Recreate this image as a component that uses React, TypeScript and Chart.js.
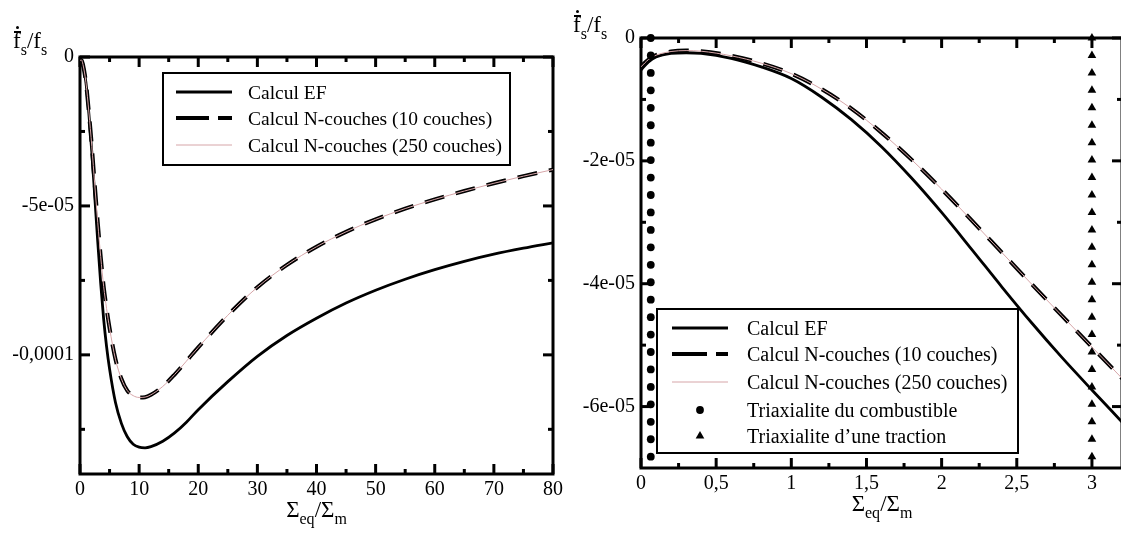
import React, { useEffect, useRef } from 'react';
import { Chart, registerables } from 'chart.js';

Chart.register(...registerables);

const SERIF = '"Liberation Serif", "Times New Roman", serif';

// ---------------- Left chart data ----------------
const leftX = [0, 0.25, 0.5, 1, 1.5, 2, 2.5, 3, 3.5, 4, 4.5, 5, 6, 7, 8, 9, 10, 11, 12, 14, 16, 18, 20, 25, 30, 35, 40, 45, 50, 55, 60, 65, 70, 75, 80];
const leftEF = [-1.2e-6, -1.0e-6, -2.5e-6, -8.5e-6, -19e-6, -32e-6, -47e-6, -62e-6, -76e-6, -88e-6, -97.3e-6, -104.7e-6, -116e-6, -123e-6, -127.5e-6, -130e-6, -131e-6, -131.2e-6, -130.8e-6, -129e-6, -126.2e-6, -122.6e-6, -118.4e-6, -109e-6, -100.5e-6, -93.5e-6, -87.7e-6, -82.6e-6, -78.3e-6, -74.6e-6, -71.4e-6, -68.6e-6, -66.2e-6, -64.2e-6, -62.4e-6];
const leftN10 = [-1.2e-6, -1.0e-6, -2.5e-6, -8.5e-6, -18.5e-6, -30e-6, -43e-6, -55.5e-6, -67e-6, -77e-6, -84.5e-6, -91e-6, -101.5e-6, -108e-6, -112e-6, -113.7e-6, -114.3e-6, -114.2e-6, -113.4e-6, -110.6e-6, -106.6e-6, -102.1e-6, -97.5e-6, -86.7e-6, -77.3e-6, -69.8e-6, -63.7e-6, -58.7e-6, -54.5e-6, -50.9e-6, -47.8e-6, -45e-6, -42.4e-6, -40e-6, -37.8e-6];
const leftN250 = [-1.2e-6, -1.0e-6, -2.5e-6, -8.5e-6, -18.5e-6, -30e-6, -43e-6, -55.5e-6, -67e-6, -77e-6, -84.5e-6, -91e-6, -101.5e-6, -108e-6, -112e-6, -113.7e-6, -114.3e-6, -114.2e-6, -113.4e-6, -110.6e-6, -106.6e-6, -102.1e-6, -97.5e-6, -86.7e-6, -77.3e-6, -69.8e-6, -63.7e-6, -58.7e-6, -54.5e-6, -50.9e-6, -47.8e-6, -45e-6, -42.4e-6, -40e-6, -37.8e-6];

const leftXTicks = [0, 10, 20, 30, 40, 50, 60, 70, 80];
const leftXLabels = ['0', '10', '20', '30', '40', '50', '60', '70', '80'];
const leftXMinor = [5, 15, 25, 35, 45, 55, 65, 75];
const leftYTicks = [0, -5e-5, -1e-4];
const leftYLabels = ['0', '-5e-05', '-0,0001'];
const leftYMinor = [-2.5e-5, -7.5e-5, -1.25e-4];

// ---------------- Right chart data ----------------
const rightX = [0, 0.05, 0.1, 0.2, 0.3, 0.4, 0.6, 0.8, 1.0, 1.2, 1.4, 1.6, 1.8, 2.0, 2.2, 2.4, 2.6, 2.8, 3.0, 3.2];
const rightEF = [-5.2e-6, -3.9e-6, -3.1e-6, -2.5e-6, -2.4e-6, -2.5e-6, -3.3e-6, -4.7e-6, -6.6e-6, -9.6e-6, -13.3e-6, -17.7e-6, -22.8e-6, -28.4e-6, -34.4e-6, -40.5e-6, -46.4e-6, -52.0e-6, -57.3e-6, -62.5e-6];
const rightN10 = [-4.6e-6, -3.5e-6, -2.8e-6, -2.2e-6, -2.05e-6, -2.15e-6, -2.9e-6, -4.1e-6, -5.8e-6, -8.3e-6, -11.5e-6, -15.4e-6, -19.8e-6, -24.6e-6, -29.7e-6, -34.9e-6, -40.1e-6, -45.2e-6, -50.3e-6, -55.4e-6];
const rightN250 = [-4.7e-6, -3.5e-6, -2.8e-6, -2.2e-6, -2.05e-6, -2.15e-6, -2.9e-6, -4.1e-6, -5.8e-6, -8.3e-6, -11.5e-6, -15.4e-6, -19.8e-6, -24.6e-6, -29.7e-6, -34.9e-6, -40.1e-6, -45.2e-6, -50.3e-6, -55.4e-6];

const fuelTriaxX = 0.065;
const fuelTriaxY = [0, -2.84e-6, -5.68e-6, -8.52e-6, -11.36e-6, -14.2e-6, -17.04e-6, -19.88e-6, -22.72e-6, -25.56e-6, -28.4e-6, -31.24e-6, -34.08e-6, -36.92e-6, -39.76e-6, -42.6e-6, -45.44e-6, -48.28e-6, -51.12e-6, -53.96e-6, -56.8e-6, -59.64e-6, -62.48e-6, -65.32e-6, -68.16e-6];
const tractionTriaxX = 3.0;
const tractionTriaxY = [0, -2.84e-6, -5.68e-6, -8.52e-6, -11.36e-6, -14.2e-6, -17.04e-6, -19.88e-6, -22.72e-6, -25.56e-6, -28.4e-6, -31.24e-6, -34.08e-6, -36.92e-6, -39.76e-6, -42.6e-6, -45.44e-6, -48.28e-6, -51.12e-6, -53.96e-6, -56.8e-6, -59.64e-6, -62.48e-6, -65.32e-6, -68.16e-6];

const rightXTicks = [0, 0.5, 1, 1.5, 2, 2.5, 3];
const rightXLabels = ['0', '0,5', '1', '1,5', '2', '2,5', '3'];
const rightXMinor = [0.25, 0.75, 1.25, 1.75, 2.25, 2.75];
const rightYTicks = [0, -2e-5, -4e-5, -6e-5];
const rightYLabels = ['0', '-2e-05', '-4e-05', '-6e-05'];
const rightYMinor = [-1e-5, -3e-5, -5e-5];

const seriesLabels = ['Calcul EF', 'Calcul N-couches (10 couches)', 'Calcul N-couches (250 couches)'];
const markerLabels = ['Triaxialite du combustible', 'Triaxialite d\u2019une traction'];

// ---------------- Plugins ----------------
const frameTicksPlugin = {
  id: 'frameTicks',
  beforeDatasetsDraw(chart: any, _args: any, opts: any) {
    const { ctx, chartArea: a, scales } = chart;
    const xs = scales.x;
    const ys = scales.y;
    ctx.save();
    ctx.strokeStyle = '#000';
    ctx.lineWidth = 3;
    ctx.lineCap = 'butt';
    const seg = (x1: number, y1: number, x2: number, y2: number) => {
      ctx.beginPath();
      ctx.moveTo(x1, y1);
      ctx.lineTo(x2, y2);
      ctx.stroke();
    };
    const xt = (vals: number[], len: number) =>
      vals.forEach((v) => {
        const p = xs.getPixelForValue(v);
        seg(p, a.bottom, p, a.bottom - len);
        seg(p, a.top, p, a.top + len);
      });
    const yt = (vals: number[], len: number) =>
      vals.forEach((v) => {
        const p = ys.getPixelForValue(v);
        seg(a.left, p, a.left + len, p);
        seg(a.right, p, a.right - len, p);
      });
    xt(opts.majorX, 10);
    xt(opts.minorX, 5);
    yt(opts.majorY, 10);
    yt(opts.minorY, 5);
    ctx.strokeRect(a.left, a.top, a.right - a.left, a.bottom - a.top);
    ctx.restore();
  },
};

const boxLegendPlugin = {
  id: 'boxLegend',
  afterDraw(chart: any, _args: any, opts: any) {
    const { ctx } = chart;
    const { box, sampleX0, sampleX1, markerX, textX, rows, fontSize } = opts;
    ctx.save();
    ctx.fillStyle = '#fff';
    ctx.fillRect(box.x, box.y, box.w, box.h);
    ctx.lineWidth = 2;
    ctx.strokeStyle = '#000';
    ctx.strokeRect(box.x, box.y, box.w, box.h);
    rows.forEach((row: any) => {
      const ds = chart.data.datasets[row.dataset];
      const y = row.y;
      if (row.kind === 'line') {
        ctx.beginPath();
        ctx.setLineDash(row.dash || []);
        ctx.lineWidth = ds.borderWidth;
        ctx.strokeStyle = ds.borderColor;
        ctx.moveTo(sampleX0, y);
        ctx.lineTo(sampleX1, y);
        ctx.stroke();
        ctx.setLineDash([]);
      } else if (row.kind === 'circle') {
        ctx.beginPath();
        ctx.fillStyle = '#000';
        ctx.arc(markerX, y, ds.pointRadius, 0, Math.PI * 2);
        ctx.fill();
      } else {
        const r = ds.pointRadius;
        ctx.beginPath();
        ctx.fillStyle = '#000';
        let rad = 0;
        ctx.moveTo(markerX + Math.sin(rad) * r, y - Math.cos(rad) * r);
        rad += (Math.PI * 2) / 3;
        ctx.lineTo(markerX + Math.sin(rad) * r, y - Math.cos(rad) * r);
        rad += (Math.PI * 2) / 3;
        ctx.lineTo(markerX + Math.sin(rad) * r, y - Math.cos(rad) * r);
        ctx.closePath();
        ctx.fill();
      }
      ctx.fillStyle = '#000';
      ctx.font = `${fontSize}px ${SERIF}`;
      ctx.textBaseline = 'alphabetic';
      ctx.textAlign = 'left';
      ctx.fillText(ds.label, textX, y + 7);
    });
    ctx.restore();
  },
};

// ---------------- Helpers ----------------
function labelFor(ticks: number[], labels: string[], v: number) {
  const i = ticks.findIndex((t) => Math.abs(t - v) < 1e-12);
  return i >= 0 ? labels[i] : '';
}

function makeScales(o: any) {
  const tickFont = { family: SERIF, size: 20 };
  return {
    x: {
      type: 'linear',
      min: o.xMin,
      max: o.xMax,
      afterBuildTicks: (s: any) => {
        s.ticks = o.xTicks.map((v: number) => ({ value: v }));
      },
      afterFit: (s: any) => {
        s.height = o.xAxisH;
      },
      ticks: {
        autoSkip: false,
        maxRotation: 0,
        minRotation: 0,
        padding: 4,
        color: '#000',
        font: tickFont,
        callback: (v: number) => labelFor(o.xTicks, o.xLabels, v),
      },
      grid: { display: false, drawTicks: false },
      border: { display: false },
    },
    y: {
      type: 'linear',
      min: o.yMin,
      max: o.yMax,
      afterBuildTicks: (s: any) => {
        s.ticks = o.yTicks.map((v: number) => ({ value: v }));
      },
      afterFit: (s: any) => {
        s.width = o.yAxisW;
      },
      ticks: {
        autoSkip: false,
        padding: 6,
        color: '#000',
        font: tickFont,
        callback: (v: number) => labelFor(o.yTicks, o.yLabels, v),
      },
      grid: { display: false, drawTicks: false },
      border: { display: false },
    },
  };
}

function pts(xs: number[], ys: number[]) {
  return xs.map((x, i) => ({ x, y: ys[i] }));
}

const PINK = '#d6a5a8';

function curveDatasets(xs: number[], ef: number[], n10: number[], n250: number[]) {
  return [
    {
      label: seriesLabels[0],
      data: pts(xs, ef),
      showLine: true,
      borderColor: '#000',
      borderWidth: 2.8,
      pointRadius: 0,
      cubicInterpolationMode: 'monotone',
      order: 3,
    },
    {
      label: seriesLabels[1],
      data: pts(xs, n10),
      showLine: true,
      borderColor: '#000',
      borderWidth: 4,
      borderDash: [20, 12],
      pointRadius: 0,
      cubicInterpolationMode: 'monotone',
      order: 2,
    },
    {
      label: seriesLabels[2],
      data: pts(xs, n250),
      showLine: true,
      borderColor: PINK,
      borderWidth: 1,
      pointRadius: 0,
      cubicInterpolationMode: 'monotone',
      order: 1,
    },
  ];
}

function leftConfig(): any {
  return {
    type: 'scatter',
    data: { datasets: curveDatasets(leftX, leftEF, leftN10, leftN250) },
    options: {
      responsive: false,
      animation: false,
      events: [],
      layout: { padding: { left: 0, top: 57, right: 47, bottom: 0 } },
      scales: makeScales({
        xMin: 0, xMax: 80, xTicks: leftXTicks, xLabels: leftXLabels, xAxisH: 59,
        yMin: -1.4e-4, yMax: 0, yTicks: leftYTicks, yLabels: leftYLabels, yAxisW: 80,
      }),
      plugins: {
        legend: { display: false },
        tooltip: { enabled: false },
        frameTicks: { majorX: leftXTicks, minorX: leftXMinor, majorY: leftYTicks, minorY: leftYMinor },
        boxLegend: {
          box: { x: 163, y: 73, w: 347, h: 92 },
          sampleX0: 176,
          sampleX1: 232,
          markerX: 204,
          textX: 248,
          fontSize: 19.5,
          rows: [
            { dataset: 0, kind: 'line', y: 92 },
            { dataset: 1, kind: 'line', y: 118, dash: [33, 9] },
            { dataset: 2, kind: 'line', y: 145 },
          ],
        },
      },
    },
    plugins: [frameTicksPlugin, boxLegendPlugin],
  };
}

function rightConfig(): any {
  const ox = 560;
  return {
    type: 'scatter',
    data: {
      datasets: [
        ...curveDatasets(rightX, rightEF, rightN10, rightN250),
        {
          label: markerLabels[0],
          data: fuelTriaxY.map((y) => ({ x: fuelTriaxX, y })),
          showLine: false,
          pointStyle: 'circle',
          pointRadius: 3.9,
          pointBackgroundColor: '#000',
          pointBorderWidth: 0,
          clip: false,
          order: 0,
        },
        {
          label: markerLabels[1],
          data: tractionTriaxY.map((y) => ({ x: tractionTriaxX, y })),
          showLine: false,
          pointStyle: 'triangle',
          pointRadius: 5,
          pointBackgroundColor: '#000',
          pointBorderWidth: 0,
          clip: false,
          order: 0,
        },
      ],
    },
    options: {
      responsive: false,
      animation: false,
      events: [],
      layout: { padding: { left: 0, top: 38, right: 38, bottom: 0 } },
      scales: makeScales({
        xMin: 0, xMax: 3.2, xTicks: rightXTicks, xLabels: rightXLabels, xAxisH: 65,
        yMin: -7e-5, yMax: 0, yTicks: rightYTicks, yLabels: rightYLabels, yAxisW: 81,
      }),
      plugins: {
        legend: { display: false },
        tooltip: { enabled: false },
        frameTicks: { majorX: rightXTicks, minorX: rightXMinor, majorY: rightYTicks, minorY: rightYMinor },
        boxLegend: {
          box: { x: 657 - ox, y: 309, w: 361, h: 144 },
          sampleX0: 672 - ox,
          sampleX1: 728 - ox,
          markerX: 700 - ox,
          textX: 747 - ox,
          fontSize: 20,
          rows: [
            { dataset: 0, kind: 'line', y: 328 },
            { dataset: 1, kind: 'line', y: 354, dash: [35, 9] },
            { dataset: 2, kind: 'line', y: 382 },
            { dataset: 3, kind: 'circle', y: 410 },
            { dataset: 4, kind: 'triangle', y: 436 },
          ],
        },
      },
    },
    plugins: [frameTicksPlugin, boxLegendPlugin],
  };
}

function ChartCanvas({ makeConfig, left, width, height }: any) {
  const ref = useRef<HTMLCanvasElement>(null);
  useEffect(() => {
    const chart = new Chart(ref.current as HTMLCanvasElement, makeConfig());
    return () => chart.destroy();
  }, []);
  return (
    <canvas
      ref={ref}
      width={width}
      height={height}
      style={{ position: 'absolute', left, top: 0, width, height, display: 'block' }}
    />
  );
}

const subStyle: React.CSSProperties = { fontSize: 16, position: 'relative', top: 7 };

function YTitle({ left, baseline }: { left: number; baseline: number }) {
  const asc = 19.3;
  return (
    <div
      style={{
        position: 'absolute', left, top: baseline - asc, fontFamily: SERIF, fontSize: 23,
        lineHeight: 1, whiteSpace: 'nowrap', color: '#000',
      }}
    >
      <span style={{ position: 'relative', display: 'inline-block' }}>
        f
        <span style={{ position: 'absolute', left: 0.5, top: asc - 16.5, width: 7.5, height: 1.5, background: '#000' }} />
        <span style={{ position: 'absolute', left: 2.8, top: asc - 22.5, width: 3.2, height: 3.2, borderRadius: '50%', background: '#000' }} />
      </span>
      <span style={subStyle}>s</span>/f<span style={subStyle}>s</span>
    </div>
  );
}

function XTitle({ center, baseline }: { center: number; baseline: number }) {
  return (
    <div
      style={{
        position: 'absolute', left: center - 100, width: 200, textAlign: 'center', top: baseline - 19.3,
        fontFamily: SERIF, fontSize: 23, lineHeight: 1, whiteSpace: 'nowrap', color: '#000',
      }}
    >
      Σ<span style={subStyle}>eq</span>/Σ<span style={subStyle}>m</span>
    </div>
  );
}

export default function App() {
  return (
    <div
      style={{
        position: 'fixed', left: 0, top: 0, width: 1121, height: 533, overflow: 'hidden', background: '#fff',
      }}
    >
      <ChartCanvas makeConfig={leftConfig} left={0} width={600} height={533} />
      <ChartCanvas makeConfig={rightConfig} left={560} width={600} height={533} />
      <YTitle left={13} baseline={48} />
      <YTitle left={573} baseline={32} />
      <XTitle center={316.5} baseline={517} />
      <XTitle center={882} baseline={511} />
    </div>
  );
}
